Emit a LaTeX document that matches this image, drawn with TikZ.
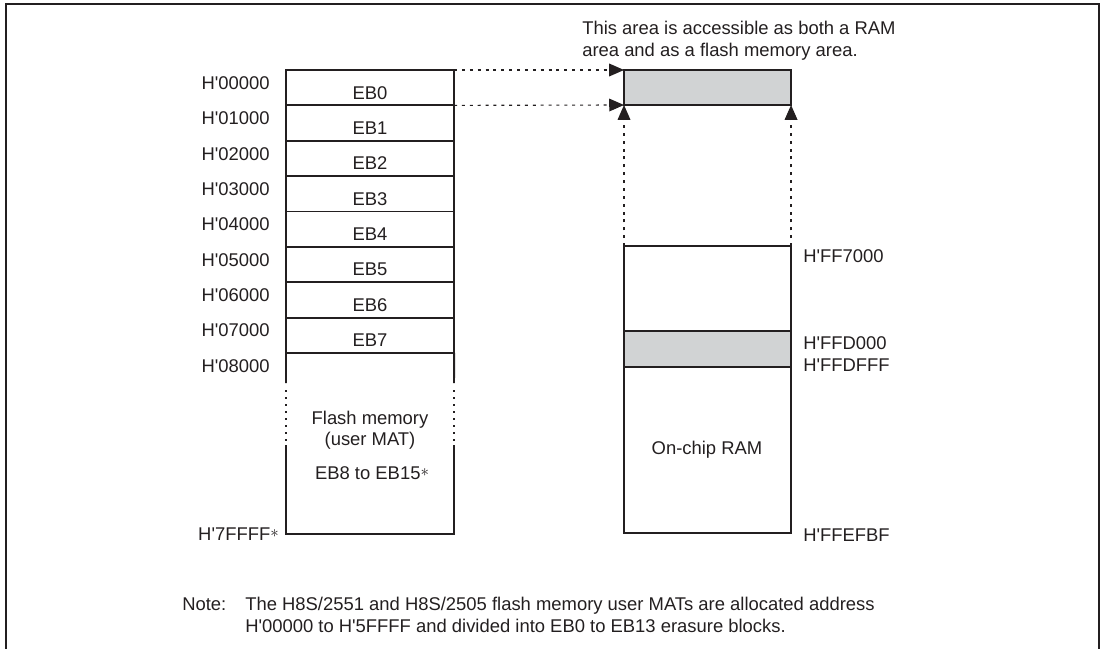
\documentclass[tikz,border=0pt]{standalone}
\usepackage{fontspec}
\setmainfont{Liberation Sans}[Ligatures=TeXOff]
\usepackage{xcolor}
\usepackage{tikz}
\usetikzlibrary{calc,arrows.meta,positioning}
\definecolor{areagray}{HTML}{D1D3D4}
\definecolor{inkx}{HTML}{231F20}
\newcommand{\fnast}{\raisebox{0.15em}{$\ast$}}
\tikzset{
  blk/.style={draw=inkx,line width=1.4pt,minimum width=4.2cm,minimum height=0.884cm,inner sep=0pt,outer sep=0pt},
  txt/.style={font=\fontsize{13.1}{15.2}\selectfont,text=inkx,inner sep=0pt},
  side/.style={draw=inkx,line width=1.4pt},
  dotside/.style={dash pattern=on 1.6pt off 3.4pt},
  dar/.style={-{Triangle[length=10.5pt,width=9pt]},line width=0.8pt,inkx,dash pattern=on 2.1pt off 3.5pt}
}
\begin{document}
\begin{tikzpicture}[x=0.025cm,y=-0.025cm]
\useasboundingbox (0,0) rectangle (1102,649);
\draw[inkx,line width=1.2pt] (6,649) -- (6,4) -- (1099,4) -- (1099,649);
\foreach \i in {0,...,7}{
  \node[blk,anchor=north west] (eb\i) at (286,{70+35.375*\i}) {};
  \node[txt] (ebt\i) at ($(eb\i.center)+(0,5)$) {EB\i};
  \node[txt,anchor=east] (ad\i) at ($(eb\i.north west)+(-16,13)$) {H'0\i000};
}
\draw[side] (eb7.south west) -- (286,383) (eb7.south east) -- (454,383);
\draw[side,dotside] (286,390) -- (286,441) (454,390) -- (454,441);
\draw[side] (286,445) -- (286,534) -- (454,534) -- (454,445);
\node[txt,anchor=east] (ad8) at (270,366) {H'08000};
\node[txt,anchor=east] (adend) at (279,534) {H'7FFFF\fnast};
\node[txt,align=center] (flash) at (370,430) {Flash memory\\(user MAT)};
\node[txt] (ebrest) at (372,473) {EB8 to EB15\fnast};

\node[blk,fill=areagray,anchor=north west,minimum width=4.175cm,minimum height=0.875cm] (acc) at (624,70) {};
\node[txt,anchor=north west,align=left] (acct) at (582,21) {This area is accessible as both a RAM\\area and as a flash memory area.};
\node[blk,anchor=north west,minimum width=4.175cm,minimum height=7.175cm] (ram) at (624,246) {};
\node[blk,fill=areagray,anchor=north west,minimum width=4.175cm,minimum height=0.9cm] (band) at (624,331) {};
\node[txt] (ramt) at (707,450) {On-chip RAM};
\node[txt,anchor=west] (r1) at (803,256) {H'FF7000};
\node[txt,anchor=west] (r2) at (803,343) {H'FFD000};
\node[txt,anchor=west] (r3) at (803,365) {H'FFDFFF};
\node[txt,anchor=west] (r4) at (803,535) {H'FFEFBF};

\draw[dar] (eb0.north east) -- (acc.north west);
\draw[dar] (eb0.south east) -- (acc.south west);
\draw[dar] (ram.north west) -- (acc.south west);
\draw[dar] (ram.north east) -- (acc.south east);

\node[txt,anchor=west] (notel) at (182,604) {Note:};
\node[txt,anchor=north west,align=left] (notet) at (245,597) {The H8S/2551 and H8S/2505 flash memory user MATs are allocated address\\H'00000 to H'5FFFF and divided into EB0 to EB13 erasure blocks.};
\end{tikzpicture}
\end{document}
